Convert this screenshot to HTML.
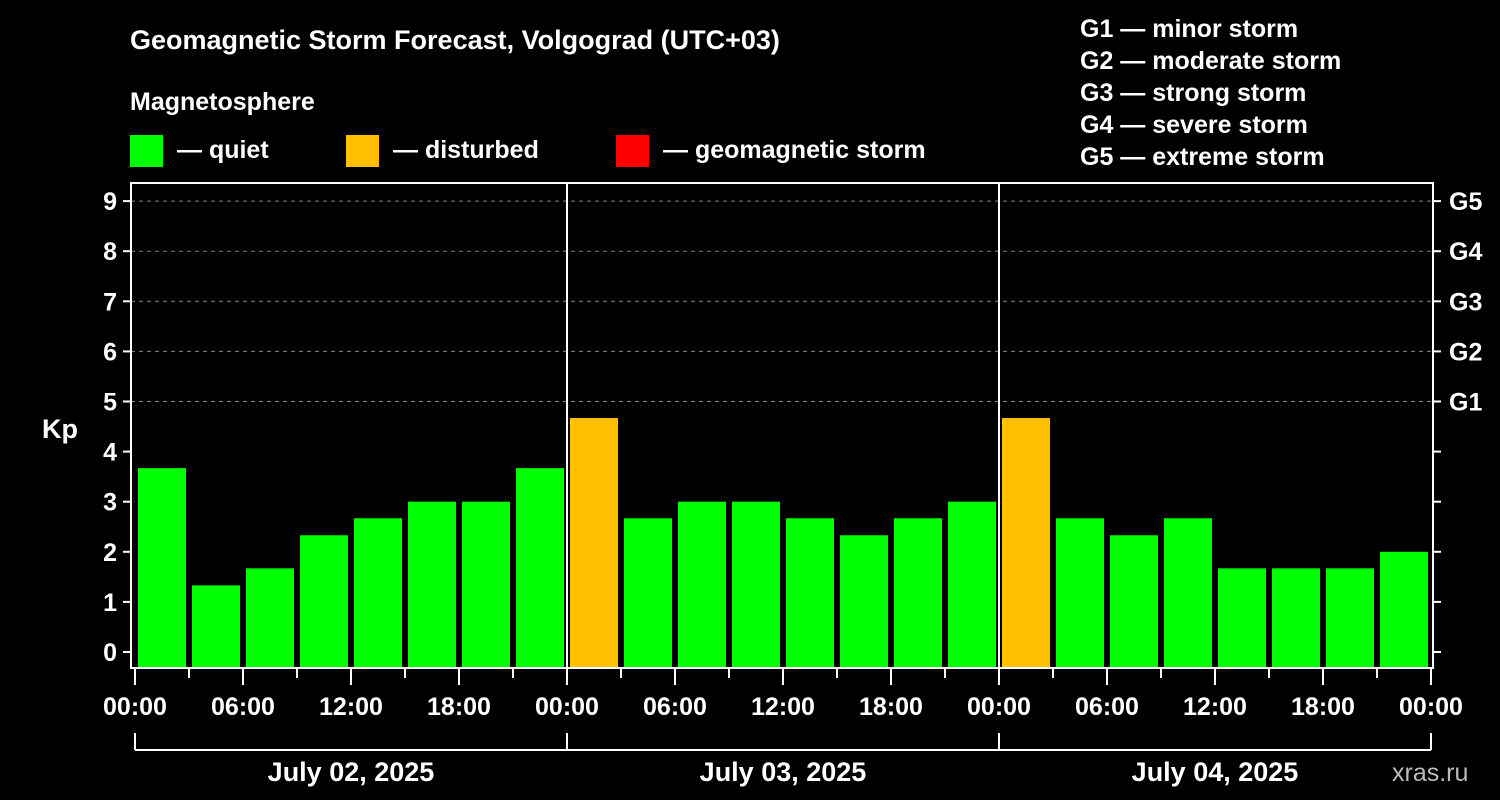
<!DOCTYPE html>
<html><head><meta charset="utf-8"><style>
body{margin:0;background:#000;width:1500px;height:800px;overflow:hidden}
svg{display:block;font-family:"Liberation Sans",Arial,sans-serif;font-weight:bold}
</style></head><body>
<svg id="c" width="1500" height="800" xmlns="http://www.w3.org/2000/svg">
<rect width="1500" height="800" fill="#000"/>
<text x="130" y="49" fill="#fff" font-size="27">Geomagnetic Storm Forecast, Volgograd (UTC+03)</text>
<text x="130" y="110" fill="#fff" font-size="25">Magnetosphere</text>
<g><rect x="130" y="135" width="33" height="32" fill="#00ff00"/><text x="177" y="158" fill="#fff" font-size="25">— quiet</text></g>
<g><rect x="346" y="135" width="33" height="32" fill="#ffc000"/><text x="393" y="158" fill="#fff" font-size="25">— disturbed</text></g>
<g><rect x="616" y="135" width="33" height="32" fill="#ff0000"/><text x="663" y="158" fill="#fff" font-size="25">— geomagnetic storm</text></g>
<g fill="#fff" font-size="25">
<text x="1080" y="37">G1 — minor storm</text><text x="1080" y="69">G2 — moderate storm</text><text x="1080" y="101">G3 — strong storm</text><text x="1080" y="133">G4 — severe storm</text><text x="1080" y="165">G5 — extreme storm</text></g>
<text x="42" y="438" fill="#fff" font-size="27">Kp</text>
<text x="1392" y="781" fill="#bbb" font-size="25" font-weight="normal">xras.ru</text>
<g id="plot"></g>
</svg>
<script>
const values=[3.67,1.33,1.67,2.33,2.67,3,3,3.67, 4.67,2.67,3,3,2.67,2.33,2.67,3, 4.67,2.67,2.33,2.67,1.67,1.67,1.67,2];
const days=["July 02, 2025","July 03, 2025","July 04, 2025"];
const hourLabels=["00:00","06:00","12:00","18:00"];
const kpTicks=[0,1,2,3,4,5,6,7,8,9];
const gLabels=["G1","G2","G3","G4","G5"];
const NS="http://www.w3.org/2000/svg";
const g=document.getElementById("plot");
const X0=135,DAY=432,PL=131,PR=1433,PT=183,PB=668;
const x=h=>X0+h*DAY/24;
const y=k=>652-50.1*k;
function mk(t,a){const e=document.createElementNS(NS,t);for(const k in a)e.setAttribute(k,a[k]);g.appendChild(e);return e;}
kpTicks.forEach(k=>{
  if(k>=5){const l=mk("line",{x1:PL,x2:PR,y1:y(k),y2:y(k),stroke:"#888","stroke-dasharray":"4,4","stroke-width":1});
  
  }
  mk("line",{x1:PL-8,x2:PL,y1:y(k),y2:y(k),stroke:"#fff","stroke-width":2});
  mk("line",{x1:PR,x2:PR+8,y1:y(k),y2:y(k),stroke:"#fff","stroke-width":2});
  const t=mk("text",{x:PL-14,y:y(k)+9,fill:"#fff","font-size":25,"text-anchor":"end"});t.textContent=k;
  
  
});
gLabels.forEach((s,i)=>{const t=mk("text",{x:1449,y:y(i+5)+9,fill:"#fff","font-size":25});t.textContent=s;
  
  });
values.forEach((v,i)=>{
  const c=v>=5?"#ff0000":(v>=4?"#ffc000":"#00ff00");
  const r=mk("rect",{x:x(i*3)+3,y:y(v),width:DAY/8-6,height:PB-y(v),fill:c});
  
  
});
mk("rect",{x:PL,y:PT,width:PR-PL,height:PB-PT,fill:"none",stroke:"#fff","stroke-width":2});
for(let d=1;d<days.length;d++){mk("line",{x1:x(d*24),x2:x(d*24),y1:PT,y2:PB,stroke:"#fff","stroke-width":2});}
for(let h=0;h<=72;h+=3){
  const major=h%6===0;
  mk("line",{x1:x(h),x2:x(h),y1:PB,y2:PB+(major?17:10),stroke:"#fff","stroke-width":2});
  if(major){const t=mk("text",{x:x(h),y:715,fill:"#fff","font-size":25,"text-anchor":"middle"});t.textContent=hourLabels[(h/6)%4];
  
  }
}
mk("line",{x1:x(0),x2:x(72),y1:750,y2:750,stroke:"#fff","stroke-width":2});
for(let d=0;d<=days.length;d++)mk("line",{x1:x(d*24),x2:x(d*24),y1:733,y2:750,stroke:"#fff","stroke-width":2});
days.forEach((s,d)=>{const t=mk("text",{x:x(d*24+12),y:781,fill:"#fff","font-size":27,"text-anchor":"middle"});t.textContent=s;
  
  });
</script>
</body></html>
